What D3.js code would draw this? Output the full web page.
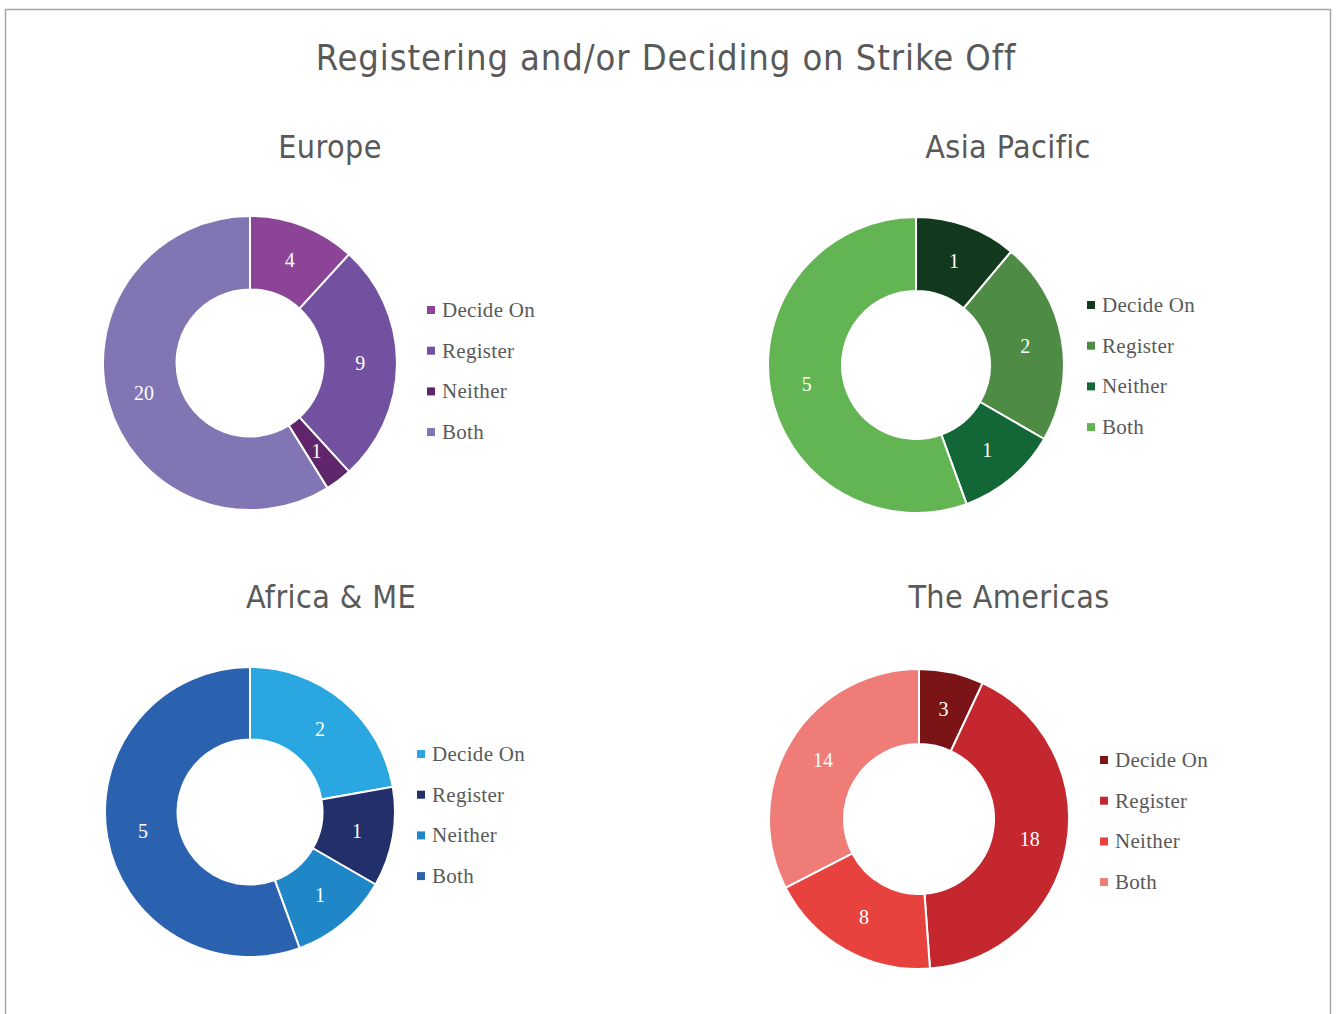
<!DOCTYPE html>
<html>
<head>
<meta charset="utf-8">
<script src="https://cdn.jsdelivr.net/npm/d3@7"></script>
<style>
  body { margin: 0; background: #fff; }
  svg { display: block; }
</style>
</head>
<body>
<svg class="chart"></svg>
<script>
var width = 1336;
var height = 1014;

// data
var categories = ["Decide On", "Register", "Neither", "Both"];
var regions = ["Europe", "Asia Pacific", "Africa & ME", "The Americas"];
var europe = [4, 9, 1, 20];
var asiaPacific = [1, 2, 1, 5];
var africaME = [2, 1, 1, 5];
var americas = [3, 18, 8, 14];

// colours per region
var europeColors = ["#8b4496", "#7151a0", "#60256b", "#8275b3"];
var asiaColors = ["#12381e", "#4e8b44", "#136636", "#63b553"];
var africaColors = ["#2aa7e0", "#222f6b", "#1f86c8", "#2b62b0"];
var americasColors = ["#7b1417", "#c4282e", "#e8423f", "#f07c77"];

// layout of each panel
var panels = [
    {name: regions[0], values: europe, colors: europeColors, cx: 250, cy: 363, r: 147, tx: 330, ty: 149, lx: 431, ly: 310},
    {name: regions[1], values: asiaPacific, colors: asiaColors, cx: 916, cy: 365, r: 148, tx: 1008, ty: 149, lx: 1091, ly: 305},
    {name: regions[2], values: africaME, colors: africaColors, cx: 250, cy: 812, r: 145, tx: 331, ty: 599, lx: 421, ly: 754},
    {name: regions[3], values: americas, colors: americasColors, cx: 919, cy: 819, r: 150, tx: 1009, ty: 599, lx: 1104, ly: 760}
];

var chart = d3.select(".chart")
    .attr("width", width)
    .attr("height", height);

// outer frame
chart.append("rect")
    .attr("x", 5.5)
    .attr("y", 9.5)
    .attr("width", 1325)
    .attr("height", 1020)
    .attr("fill", "none")
    .attr("stroke", "#a6a6a6")
    .attr("stroke-width", 1.5);

chart.append("text")
    .attr("x", 666)
    .attr("y", 60)
    .attr("text-anchor", "middle")
    .attr("dominant-baseline", "middle")
    .style("font-family", "'DejaVu Sans Condensed', 'DejaVu Sans', sans-serif")
    .style("font-size", "36px")
    .style("letter-spacing", "0.9px")
    .style("fill", "#595959")
    .text("Registering and/or Deciding on Strike Off");

var pie = d3.pie().sort(null).startAngle(0).endAngle(2 * Math.PI);

panels.forEach(function(p) {
    var g = chart.append("g");

    g.append("text")
        .attr("x", p.tx)
        .attr("y", p.ty)
        .attr("text-anchor", "middle")
        .attr("dominant-baseline", "middle")
        .style("font-family", "'DejaVu Sans Condensed', 'DejaVu Sans', sans-serif")
        .style("font-size", "32px")
        .style("letter-spacing", "0.4px")
        .style("fill", "#595959")
        .text(p.name);

    var color = d3.scaleOrdinal().domain(categories).range(p.colors);
    var arc = d3.arc().innerRadius(p.r * 0.5).outerRadius(p.r);

    var arcs = pie(p.values);

    var slices = g.append("g")
        .attr("transform", "translate(" + p.cx + "," + p.cy + ")");

    slices.selectAll("path")
        .data(arcs)
        .enter()
        .append("path")
        .attr("d", arc)
        .attr("fill", function(d, i) { return color(categories[i]); })
        .attr("stroke", "#fff")
        .attr("stroke-width", 2);

    slices.selectAll("text")
        .data(arcs)
        .enter()
        .append("text")
        .attr("transform", function(d) { return "translate(" + arc.centroid(d) + ")"; })
        .attr("text-anchor", "middle")
        .attr("dominant-baseline", "central")
        .style("font-family", "'Liberation Serif', serif")
        .style("font-size", "20px")
        .style("fill", "#fff")
        .text(function(d) { return d.value; });

    var legend = g.selectAll("g.legend")
        .data(categories)
        .enter()
        .append("g")
        .attr("class", "legend")
        .attr("transform", function(d, i) { return "translate(" + p.lx + "," + (p.ly + i * 40.7) + ")"; });

    legend.append("rect")
        .attr("x", -4)
        .attr("y", -4)
        .attr("width", 8)
        .attr("height", 8)
        .attr("fill", function(d) { return color(d); });

    legend.append("text")
        .attr("x", 11)
        .attr("y", 0)
        .attr("dominant-baseline", "central")
        .style("font-family", "'Liberation Serif', serif")
        .style("font-size", "21px")
        .style("letter-spacing", "0.3px")
        .style("fill", "#595959")
        .text(function(d) { return d; });
});
</script>
</body>
</html>
